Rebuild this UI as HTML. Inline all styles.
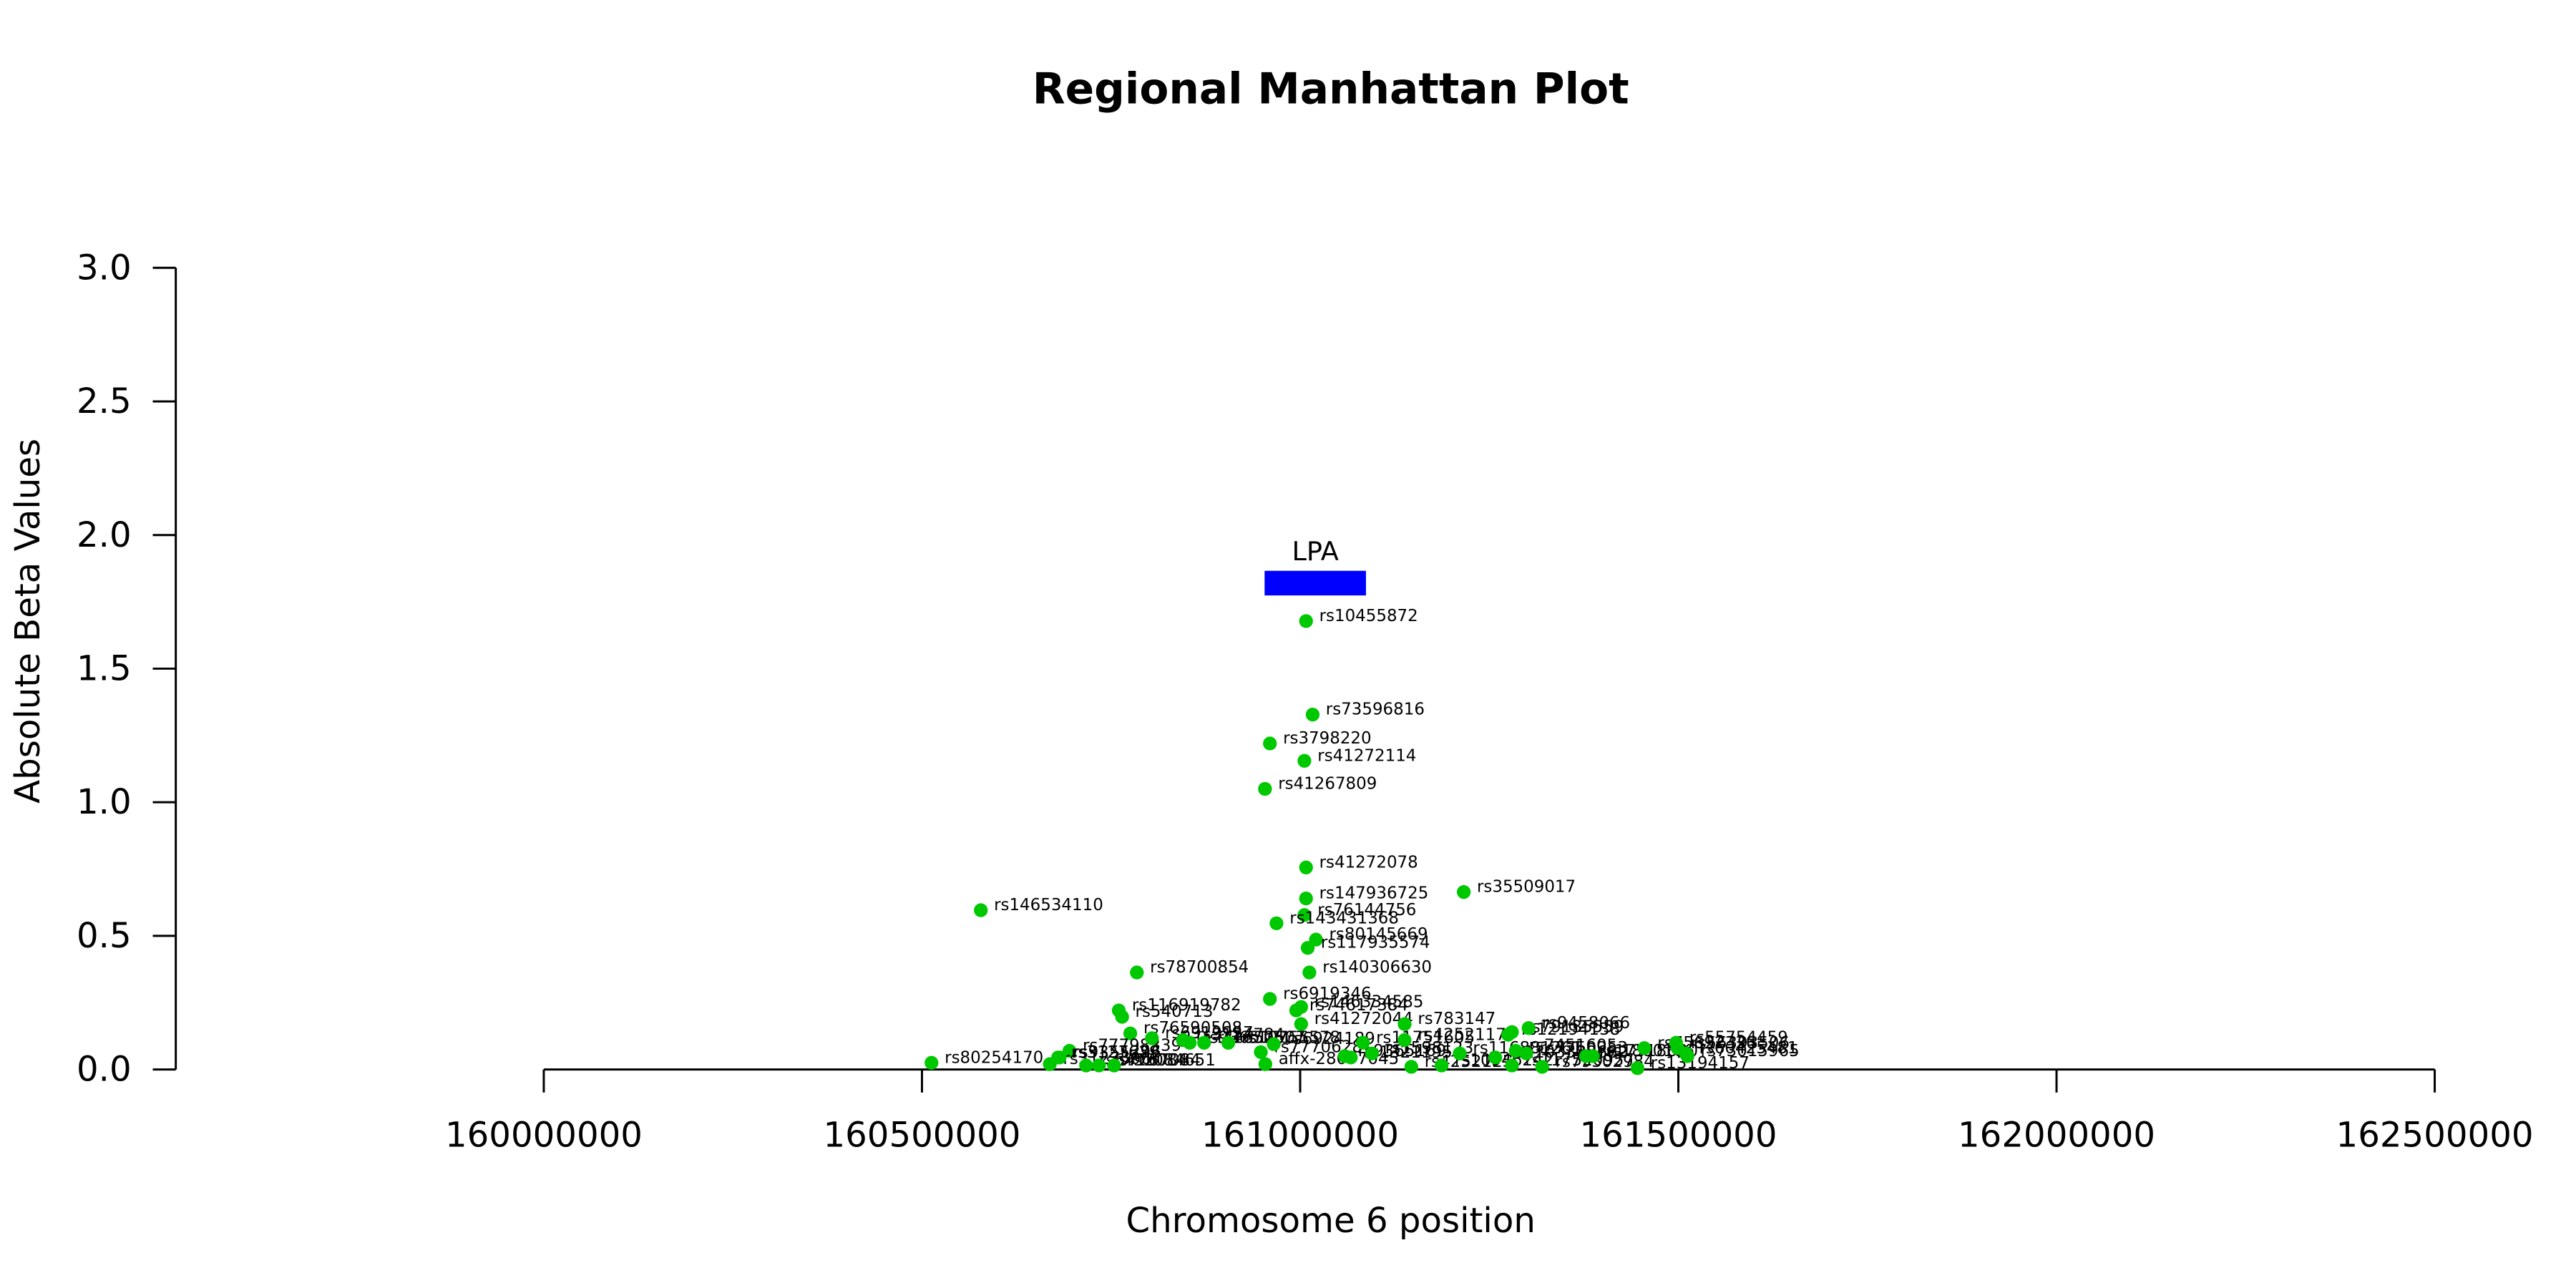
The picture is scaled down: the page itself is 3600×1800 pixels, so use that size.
<!DOCTYPE html>
<html><head><meta charset="utf-8"><style>
html,body{margin:0;padding:0;background:#fff}
svg{display:block}
text{font-family:"DejaVu Sans","Liberation Sans",sans-serif}
</style></head><body>
<svg id="chart" width="3600" height="1800" viewBox="0 0 1568 784" xmlns="http://www.w3.org/2000/svg">
<rect width="1568" height="784" fill="#fff"/>
<text x="810" y="63" text-anchor="middle" font-size="26" font-weight="bold">Regional Manhattan Plot</text>
<text x="810" y="750" text-anchor="middle" font-size="21">Chromosome 6 position</text>
<text transform="translate(24,378) rotate(-90)" text-anchor="middle" font-size="21">Absolute Beta Values</text>
<g id="axes"></g>
<g id="gene"></g>
<g id="points"></g>
</svg>
<script>
const xTicks = [160000000,160500000,161000000,161500000,162000000,162500000];
const yTicks = [0,0.5,1.0,1.5,2.0,2.5,3.0];
const geneName = "LPA";
const geneStart = 160953000;
const geneEnd = 161087000;
const geneY = 1.82;
const snps = ["rs10455872","rs73596816","rs3798220","rs41272114","rs41267809","rs41272078","rs35509017","rs147936725","rs76144756","rs143431368","rs146534110","rs80145669","rs117935574","rs140306630","rs78700854","rs6919346","rs74617384","rs146334585","rs116919782","rs540713","rs41272044","rs783147","rs76590508","rs80254170","rs77798339","rs3127596","rs3123629","rs9355296","rs6415084","rs7767084","rs1084651","rs6919957","rs3124784","rs9365171","rs1652507","rs10755578","affx-28077045","rs7770628","rs6924189","rs9365169","rs1321195","rs11751605","rs1598123","rs4252117","rs4252125","rs10946242","rs116881261","rs1103389682","rs12194138","rs79135559","rs117520957","rs9458066","rs7451605","rs7750953","rs79302984","rs17518630","rs1800166","rs13194157","rs75692336","rs55754459","rs56393506","rs60425481","rs73015965"];
const positions = [161007800,161016500,160960000,161005600,160953500,161007800,161216300,161007800,161005600,160968700,160577800,161020900,161010000,161012200,160784100,160960000,160994800,161001300,160760200,160764600,161001300,161138100,160775400,160512600,160695000,160669000,160680000,160682000,160717000,160734000,160754000,160804000,160845000,160854000,160873000,160905000,160954000,160948000,160965000,161059000,161067000,161083000,161095000,161138000,161147000,161187000,161211000,161258000,161275000,161280000,161280000,161302000,161285000,161299000,161320000,161378000,161387000,161446000,161455000,161497000,161499000,161510000,161512000];
const betas = [1.678,1.328,1.22,1.155,1.05,0.756,0.664,0.64,0.578,0.547,0.596,0.486,0.455,0.363,0.363,0.264,0.221,0.234,0.221,0.197,0.17,0.17,0.135,0.025,0.07,0.02,0.045,0.045,0.015,0.015,0.015,0.117,0.11,0.10,0.10,0.10,0.02,0.065,0.095,0.05,0.045,0.10,0.06,0.11,0.01,0.015,0.06,0.045,0.13,0.14,0.015,0.155,0.07,0.06,0.01,0.05,0.05,0.005,0.08,0.10,0.08,0.06,0.05];
const ns = "http://www.w3.org/2000/svg";
const X0=331, X1=1482, Y0=651, Y1=163;
function xs(v){return X0+(v-xTicks[0])/(xTicks[xTicks.length-1]-xTicks[0])*(X1-X0);}
function ys(v){return Y0-(v-yTicks[0])/(yTicks[yTicks.length-1]-yTicks[0])*(Y0-Y1);}
function mk(tag,attrs,parent){const e=document.createElementNS(ns,tag);for(const k in attrs)e.setAttribute(k,attrs[k]);parent.appendChild(e);return e;}
const axes=document.getElementById('axes');
let l=mk('line',{x1:X0,x2:X1,y1:Y0,y2:Y0,stroke:'#000','stroke-width':1.3},axes);


l=mk('line',{x1:107,x2:107,y1:ys(yTicks[0]),y2:ys(yTicks[yTicks.length-1]),stroke:'#000','stroke-width':1.3},axes);


xTicks.forEach(t=>{
  const x=xs(t);
  const tk=mk('line',{x1:x,x2:x,y1:Y0,y2:Y0+14,stroke:'#000','stroke-width':1.3},axes);
  
  
  const tx=mk('text',{x:x,y:698,'text-anchor':'middle','font-size':21},axes);
  tx.textContent=String(t);
  
  
});
yTicks.forEach(t=>{
  const y=ys(t);
  const tk=mk('line',{x1:93,x2:107,y1:y,y2:y,stroke:'#000','stroke-width':1.3},axes);
  
  
  const tx=mk('text',{x:80,y:y+7,'text-anchor':'end','font-size':21},axes);
  tx.textContent=t.toFixed(1);
  
  
});
const gene=document.getElementById('gene');
const gr=mk('rect',{x:xs(geneStart),y:ys(geneY)-7.5,width:xs(geneEnd)-xs(geneStart),height:15,fill:'#0000ff'},gene);


const gt=mk('text',{x:(xs(geneStart)+xs(geneEnd))/2,y:ys(geneY)-14,'text-anchor':'middle','font-size':16},gene);
gt.textContent=geneName;


const pts=document.getElementById('points');
snps.forEach((s,i)=>{
  const cx=xs(positions[i]), cy=ys(betas[i]);
  const c=mk('circle',{cx:cx,cy:cy,r:4.2,fill:'#00c800'},pts);
  
  
  const t=mk('text',{x:cx+8,y:cy,'font-size':10},pts);
  t.textContent=s;
  
  
});
</script>
</body></html>
